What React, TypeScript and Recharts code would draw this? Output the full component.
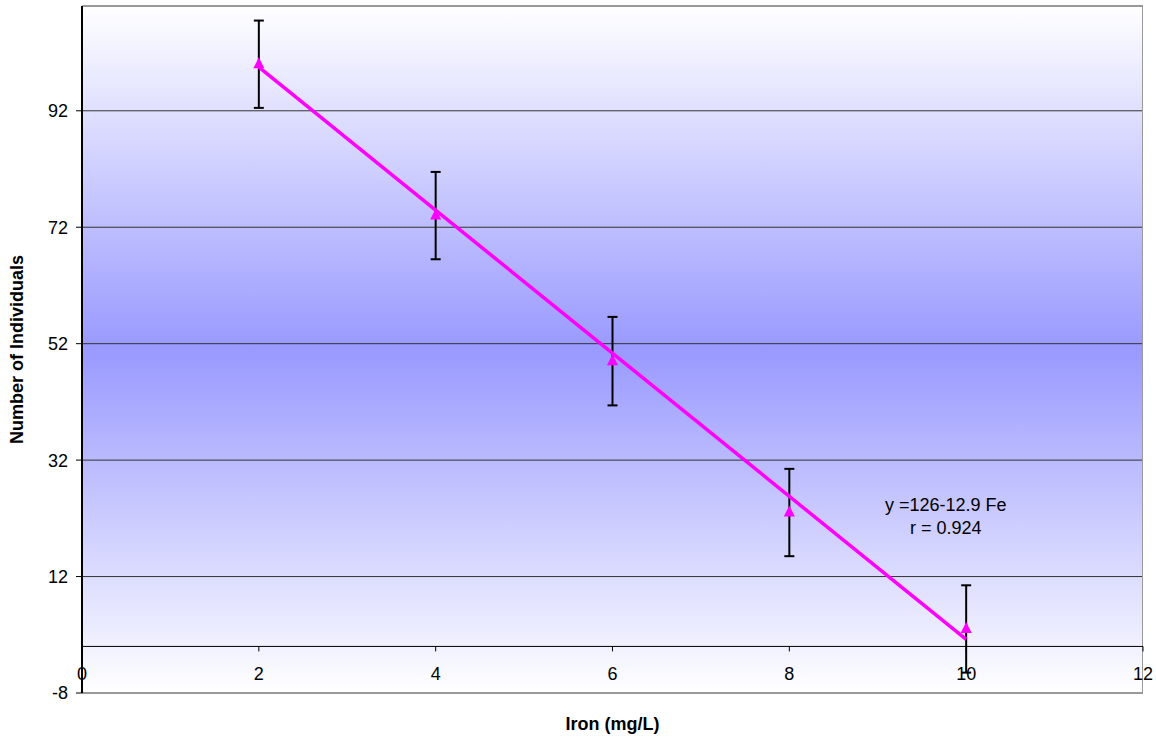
import {
  ComposedChart,
  Scatter,
  ErrorBar,
  XAxis,
  YAxis,
  CartesianGrid,
  ReferenceLine,
  ReferenceArea,
} from "recharts";

// iron concentration (mg/L) vs mean count, with +/- error
const ironLevels = [2, 4, 6, 8, 10];
const individuals = [100, 74, 49, 23, 3];
const errors = [7.5, 7.5, 7.6, 7.5, 7.5];

// fitted line end points, as drawn
const trendX = [2, 10];
const trendY = [99.5, 1.2];

const xTicks = [0, 2, 4, 6, 8, 10, 12];
const yTicks = [-8, 12, 32, 52, 72, 92];

const equationLines = ["y =126-12.9 Fe", "r = 0.924"];
const equationAt = { x: 9.77, y: 22.3 };

const points = ironLevels.map((x, i) => ({ x, y: individuals[i], err: errors[i] }));
const trend = trendX.map((x, i) => ({ x, y: trendY[i] }));
const axisMarks = xTicks.map((x) => ({ x, y: 0 }));
const note = [equationAt];

const FONT = "'Liberation Sans', Arial, sans-serif";
const MAGENTA = "#ff00ff";

function Triangle(props: any) {
  const { cx, cy } = props;
  if (cx == null || cy == null) return null;
  return (
    <polygon
      points={`${cx},${cy - 7} ${cx - 5.5},${cy + 4} ${cx + 5.5},${cy + 4}`}
      fill={MAGENTA}
    />
  );
}

function TickMark(props: any) {
  const { cx, cy } = props;
  if (cx == null || cy == null) return null;
  return <line x1={cx} x2={cx} y1={cy} y2={cy + 5} stroke="#000" strokeWidth={1} />;
}

function Equation(props: any) {
  const { cx, cy } = props;
  if (cx == null || cy == null) return null;
  return (
    <text fontFamily={FONT} fontSize={18} fill="#000" textAnchor="middle">
      <tspan x={cx} y={cy - 6}>{equationLines[0]}</tspan>
      <tspan x={cx} y={cy + 17}>{equationLines[1]}</tspan>
    </text>
  );
}

function XTick(props: any) {
  const { x, y, payload } = props;
  return (
    <text
      x={x}
      y={y - 21}
      textAnchor="middle"
      fontFamily={FONT}
      fontSize={18}
      fill="#000"
    >
      {payload.value}
    </text>
  );
}

function YLabel(props: any) {
  const { viewBox } = props;
  const cx = viewBox.x + 23;
  const cy = viewBox.y + viewBox.height / 2;
  return (
    <text
      x={cx}
      y={cy}
      transform={`rotate(-90 ${cx} ${cy})`}
      textAnchor="middle"
      fontFamily={FONT}
      fontSize={18}
      fontWeight="bold"
      fill="#000"
    >
      Number of Individuals
    </text>
  );
}

function XLabel(props: any) {
  const { viewBox } = props;
  return (
    <text
      x={viewBox.x + viewBox.width / 2}
      y={viewBox.y + 37}
      textAnchor="middle"
      fontFamily={FONT}
      fontSize={18}
      fontWeight="bold"
      fill="#000"
    >
      Iron (mg/L)
    </text>
  );
}

export default function App() {
  return (
    <div style={{ position: "absolute", left: 0, top: 0 }}>
      <ComposedChart
        width={1156}
        height={737}
        margin={{ top: 6, right: 13, bottom: 0, left: 0 }}
      >
        <defs>
          <linearGradient id="plotBg" x1="0" y1="0" x2="0" y2="1">
            <stop offset="0%" stopColor="#ffffff" />
            <stop offset="50%" stopColor="#9999ff" />
            <stop offset="100%" stopColor="#ffffff" />
          </linearGradient>
        </defs>
        <CartesianGrid
          vertical={false}
          stroke="#333"
          fill="url(#plotBg)"
          fillOpacity={1}
        />
        <XAxis
          type="number"
          dataKey="x"
          domain={[0, 12]}
          ticks={xTicks}
          interval={0}
          height={44}
          axisLine={false}
          tickLine={false}
          tick={<XTick />}
          label={<XLabel />}
        />
        <YAxis
          type="number"
          dataKey="y"
          domain={[-8, 110]}
          ticks={yTicks}
          interval={0}
          allowDataOverflow
          width={82}
          axisLine={{ stroke: "#000", strokeWidth: 2 }}
          tickLine={{ stroke: "#000" }}
          tickSize={6}
          tickMargin={8}
          tick={{ fontFamily: FONT, fontSize: 18, fill: "#000" }}
          label={<YLabel />}
        />
        <ReferenceArea
          x1={0}
          x2={12}
          y1={-8}
          y2={110}
          fill="none"
          stroke="#999"
          strokeWidth={2}
          ifOverflow="hidden"
        />
        <ReferenceLine y={0} stroke="#000" strokeWidth={1} />
        <Scatter data={axisMarks} shape={<TickMark />} isAnimationActive={false} />
        <Scatter data={points} shape={<Triangle />} isAnimationActive={false}>
          <ErrorBar dataKey="err" direction="y" width={5} stroke="#000" strokeWidth={2} />
        </Scatter>
        <Scatter
          data={trend}
          line={{ stroke: MAGENTA, strokeWidth: 3.5 }}
          shape={() => null}
          isAnimationActive={false}
        />
        <Scatter data={note} shape={<Equation />} isAnimationActive={false} />
      </ComposedChart>
    </div>
  );
}
